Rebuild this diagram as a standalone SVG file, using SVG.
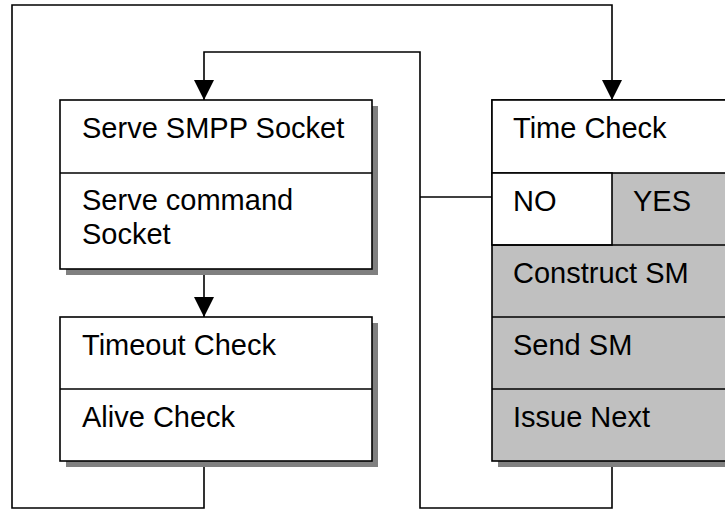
<svg xmlns="http://www.w3.org/2000/svg" width="725" height="510" viewBox="0 0 725 510">
<style>
.box{stroke:#000;stroke-width:1.6}
.w{fill:#fff}
.g{fill:#c0c0c0}
.sh{fill:#808080;stroke:none}
.ln{fill:none;stroke:#000;stroke-width:1.6}
.t{font-family:"Liberation Sans",Arial,sans-serif;font-size:29px;fill:#000}
</style>
<defs>
<marker id="ah" markerUnits="userSpaceOnUse" markerWidth="20" markerHeight="20" refX="20" refY="10" orient="auto">
<path d="M0,0 L20,10 L0,20 z" fill="#000"/>
</marker>
</defs>
<rect width="725" height="510" fill="#fff"/>
<g id="connectors">
<path class="ln" d="M204,461 V508 H12 V5 H612 V100" marker-end="url(#ah)"/>
<path class="ln" d="M612,461 V508 H420 V52 H204 V100" marker-end="url(#ah)"/>
<path class="ln" d="M420,197 H492"/>
<path class="ln" d="M204,269 V317" marker-end="url(#ah)"/>
</g>
<g id="serve">
<rect class="sh" x="66" y="106" width="312" height="169"/>
<rect class="box w" x="60" y="100" width="312" height="169"/>
<line class="box" x1="60" y1="173" x2="372" y2="173"/>
<text class="t" x="82" y="138">Serve SMPP Socket</text>
<text class="t" x="82" y="210">Serve command</text>
<text class="t" x="82" y="244">Socket</text>
</g>
<g id="check">
<rect class="sh" x="66" y="323" width="312" height="144"/>
<rect class="box w" x="60" y="317" width="312" height="144"/>
<line class="box" x1="60" y1="389" x2="372" y2="389"/>
<text class="t" x="82" y="355">Timeout Check</text>
<text class="t" x="82" y="427">Alive Check</text>
</g>
<g id="time">
<rect class="sh" x="498" y="106" width="300" height="361"/>
<rect class="box g" x="492" y="100" width="300" height="361"/>
<rect class="box w" x="492" y="100" width="300" height="73"/>
<rect class="box w" x="492" y="173" width="120" height="72"/>
<line class="box" x1="492" y1="317" x2="792" y2="317"/>
<line class="box" x1="492" y1="389" x2="792" y2="389"/>
<line class="box" x1="492" y1="245" x2="792" y2="245"/>
<text class="t" x="513" y="138">Time Check</text>
<text class="t" x="513" y="211">NO</text>
<text class="t" x="633" y="211">YES</text>
<text class="t" x="513" y="283">Construct SM</text>
<text class="t" x="513" y="355">Send SM</text>
<text class="t" x="513" y="427">Issue Next</text>
</g>
</svg>
